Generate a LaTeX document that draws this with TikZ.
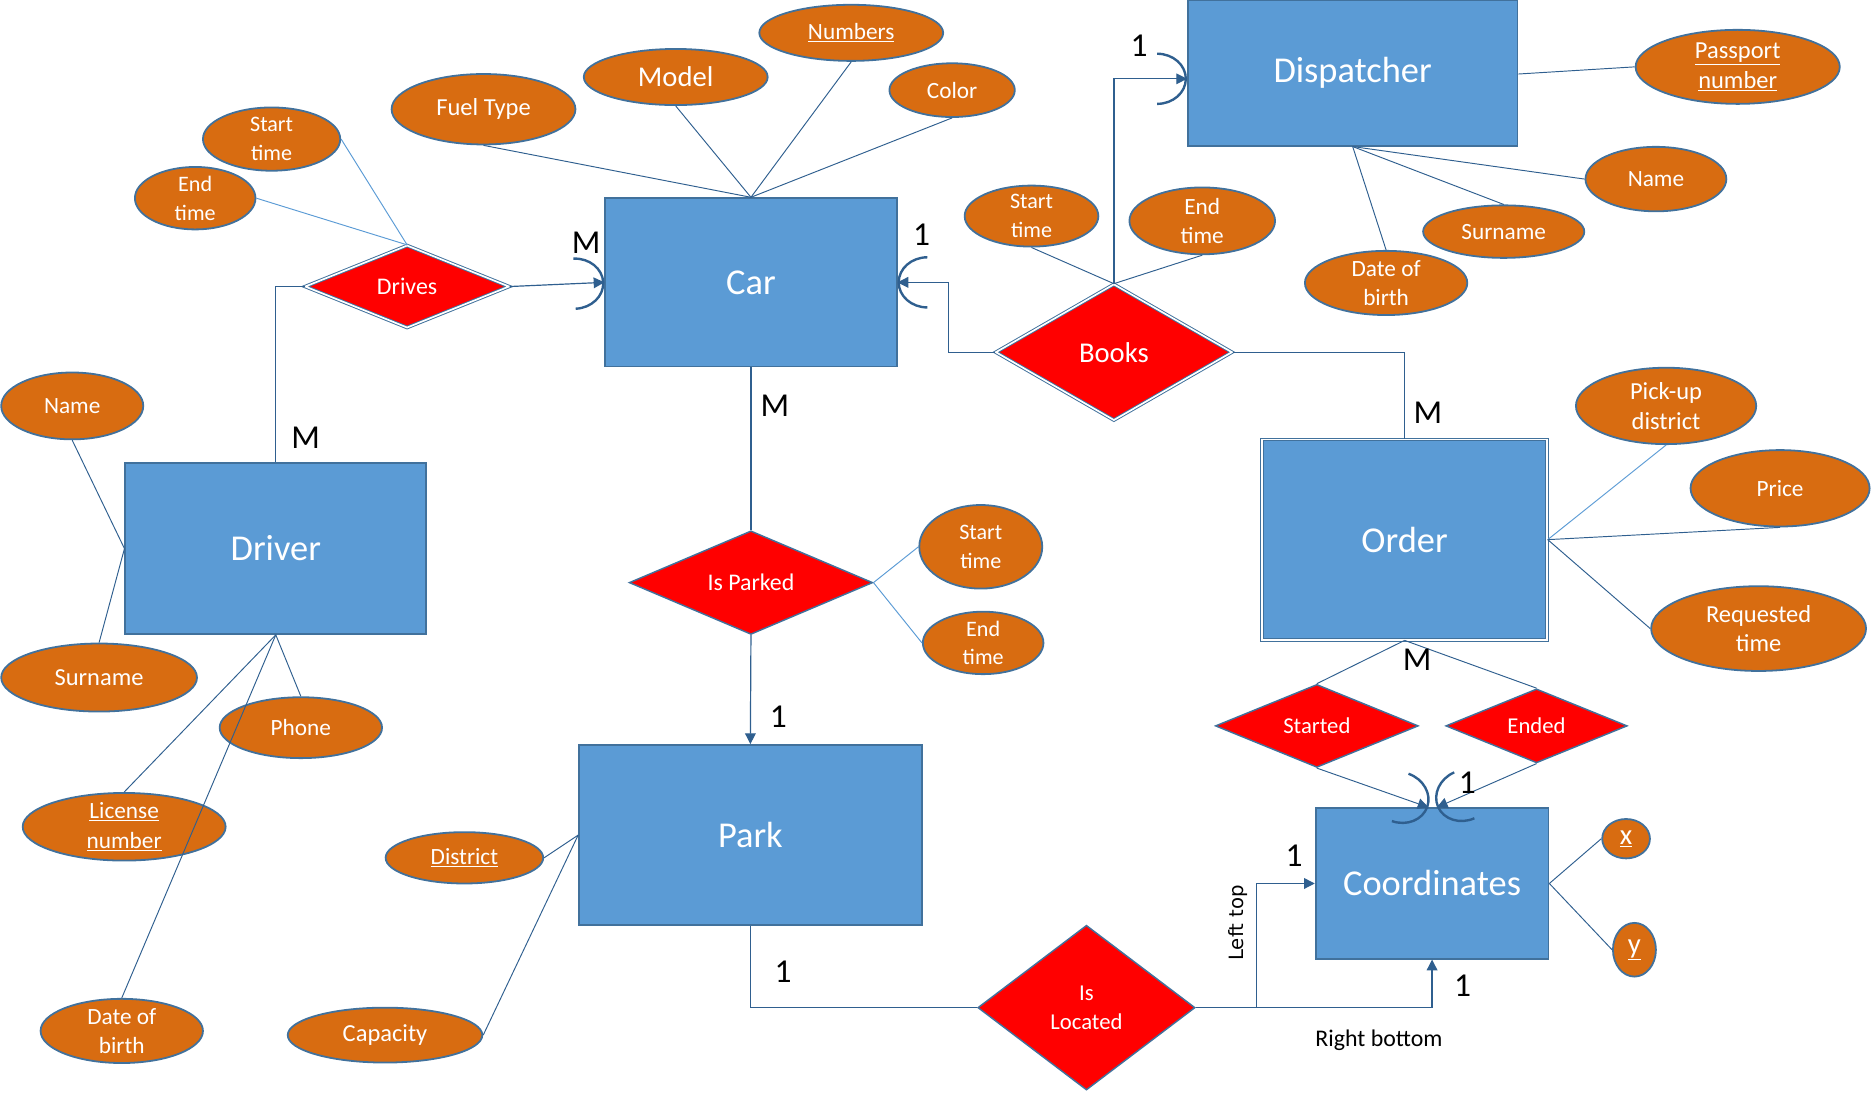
\documentclass[tikz,border=0pt]{standalone}
\usepackage{fontspec}
\setmainfont{Carlito}
\newfontfamily\djv{DejaVu Sans}
\usetikzlibrary{shapes.geometric,arrows.meta,decorations.markings,calc}
\definecolor{entfill}{HTML}{5B9BD5}
\definecolor{bord}{HTML}{41719C}
\definecolor{attfill}{HTML}{D86C11}
\definecolor{lnk}{HTML}{2F5F8F}
\definecolor{lite}{HTML}{5B9BD5}
\begin{document}
\begin{tikzpicture}[x=1pt,y=-1pt,
  ent/.style={rectangle, draw=bord, line width=1.5pt, fill=entfill, text=white, inner sep=0pt, font=\fontsize{30.5}{36}\selectfont},
  attr/.style={ellipse, draw=bord, line width=1.5pt, fill=attfill, text=white, inner sep=0pt, align=center, font=\fontsize{19.5}{24.5}\selectfont},
  rel/.style={diamond, draw=bord, line width=1.2pt, fill=red, text=white, inner sep=0pt, align=center, font=\fontsize{20}{24}\selectfont},
  dbl/.style={line width=0.8pt, double=white, double distance=1.4pt},
  conn/.style={draw=lnk, line width=1pt},
  att/.style={draw=lnk, line width=0.8pt},
  latt/.style={draw=lite, line width=0.8pt},
  arr/.style={-{Triangle[length=9pt,width=9pt]}},
  halfarc/.style={postaction={decorate, decoration={markings, mark=at position 1 with {\draw[arrows=-, draw=lnk, line width=2pt] (-25pt,-21pt) arc[start angle=-90, end angle=90, x radius=24pt, y radius=21pt];}}}},
  card/.style={inner sep=0pt, text=black, font=\fontsize{28}{30}\selectfont},
  lbl/.style={inner sep=0pt, text=black, font=\fontsize{20}{24}\selectfont}
]
\useasboundingbox (0,0) rectangle (1568,916);

% entities
\node[ent, minimum width=244pt, minimum height=141pt] (car) at (629,236.5) {Car};
\node[ent, minimum width=276pt, minimum height=122pt] (dispatcher) at (1133,61) {Dispatcher};
\node[ent, minimum width=252pt, minimum height=143pt] (driver) at (231,459.5) {Driver};
\node[ent, dbl, draw=bord, minimum width=239pt, minimum height=168pt] (order) at (1176.5,452) {Order};
\node[ent, minimum width=287pt, minimum height=151pt] (park) at (628.5,699.5) {Park};
\node[ent, minimum width=195pt, minimum height=126pt] (coord) at (1199.5,740) {Coordinates};

% relationships
\node[rel, dbl, draw=bord, minimum width=171pt, minimum height=69pt] (drives) at (341,240) {Drives};
\node[rel, dbl, draw=bord, minimum width=198pt, minimum height=114pt, font=\fontsize{24}{28}\selectfont] (books) at (933,295) {Books};
\node[rel, minimum width=204pt, minimum height=82pt] (ispark) at (629,488) {Is Parked};
\node[rel, minimum width=170pt, minimum height=56pt, font=\fontsize{19}{24}\selectfont] (started) at (1103,608) {Started};
\node[rel, minimum width=152pt, minimum height=56pt, font=\fontsize{19}{24}\selectfont] (ended) at (1287,608) {Ended};
\node[rel, minimum width=182pt, minimum height=138pt, font=\fontsize{19}{24}\selectfont] (isloc) at (910,844) {Is\\Located};

% attributes
\node[attr, minimum width=154pt, minimum height=59pt, font=\fontsize{20.5}{24}\selectfont] (fuel) at (405,91.5) {Fuel Type};
\node[attr, minimum width=154pt, minimum height=47pt, font=\fontsize{24}{28}\selectfont] (model) at (566,64.5) {Model};
\node[attr, minimum width=154pt, minimum height=47pt] (numbers) at (713,27.5) {\underline{Numbers}};
\node[attr, minimum width=105pt, minimum height=45pt] (color) at (797.5,75.5) {Color};
\node[attr, minimum width=115pt, minimum height=53pt, font=\fontsize{18.5}{24}\selectfont] (st1) at (227.5,116.5) {Start\\time};
\node[attr, minimum width=101pt, minimum height=48pt, font=\fontsize{18.5}{24}\selectfont] (et1) at (163.5,166) {End\\time};
\node[attr, minimum width=119pt, minimum height=56pt] (name1) at (60.5,340) {Name};
\node[attr, minimum width=164pt, minimum height=57pt, font=\fontsize{20.5}{24}\selectfont] (sur1) at (83,567.5) {Surname};
\node[attr, minimum width=136pt, minimum height=51pt] (phone) at (252,609.5) {Phone};
\node[attr, minimum width=170pt, minimum height=51pt] (lic) at (104,692.5) {\underline{License}\\\underline{number}};
\node[attr, minimum width=136pt, minimum height=51pt] (dob1) at (102,863.5) {Date of\\birth};
\node[attr, minimum width=163pt, minimum height=46pt, font=\fontsize{20.5}{24}\selectfont] (cap) at (322.5,867) {Capacity};
\node[attr, minimum width=132pt, minimum height=43pt] (dist) at (389,718.5) {\underline{District}};
\node[attr, minimum width=112pt, minimum height=50pt, font=\fontsize{18.5}{24}\selectfont] (st2) at (864,181) {Start\\time};
\node[attr, minimum width=122pt, minimum height=56pt] (et2) at (1007,185) {End\\time};
\node[attr, minimum width=171pt, minimum height=62pt, font=\fontsize{20.5}{25}\selectfont] (pass) at (1455.5,56) {\underline{Passport}\\\underline{number}};
\node[attr, minimum width=118pt, minimum height=54pt] (name2) at (1387,150) {Name};
\node[attr, minimum width=135pt, minimum height=44pt] (sur2) at (1259.5,194) {Surname};
\node[attr, minimum width=136pt, minimum height=50pt] (dob2) at (1161,237) {Date of\\birth};
\node[attr, minimum width=151pt, minimum height=64pt, font=\fontsize{20.5}{25}\selectfont] (pick) at (1395.5,340) {Pick-up\\district};
\node[attr, minimum width=150pt, minimum height=64pt] (price) at (1491,409) {Price};
\node[attr, minimum width=180pt, minimum height=71pt, font=\fontsize{20.5}{25}\selectfont] (req) at (1473,526.5) {Requested\\time};
\node[attr, minimum width=103pt, minimum height=70pt, font=\fontsize{18.5}{24}\selectfont] (st3) at (821.5,458) {Start\\time};
\node[attr, minimum width=101pt, minimum height=47pt, font=\fontsize{18.5}{24}\selectfont] (et3) at (823.5,538.5) {End\\time};
\node[attr, minimum width=40pt, minimum height=33pt, font=\fontsize{24}{28}\selectfont] (xx) at (1362,702.5) {\underline{x}};
\node[attr, minimum width=36pt, minimum height=45pt, font=\fontsize{24}{28}\selectfont] (yy) at (1369,795.5) {\underline{y}};

% attribute lines
\foreach \a in {fuel,model,numbers,color} \draw[att] (car.north) -- (\a.south);
\draw[latt] (drives.north) -- (st1.east);
\draw[latt] (drives.north) -- (et1.east);
\draw[att] (books.north) -- (st2.south);
\draw[att] (books.north) -- (et2.south);
\draw[att] ([yshift=-1pt]dispatcher.east) -- (pass.west);
\draw[att] (dispatcher.south) -- (name2.west);
\draw[att] (dispatcher.south) -- (sur2.north);
\draw[att] (dispatcher.south) -- (dob2.north);
\draw[latt] (order.east) -- (pick.south);
\draw[att] (order.east) -- (price.south);
\draw[att] (order.east) -- (req.west);
\draw[latt] (ispark.east) -- (st3.west);
\draw[latt] (ispark.east) -- (et3.west);
\draw[att] (driver.west) -- (name1.south);
\draw[att] (driver.west) -- (sur1.north);
\draw[att] (driver.south) -- (phone.north);
\draw[att] (driver.south) -- (lic.north);
\draw[att] (driver.south) -- (dob1.north);
\draw[att] (park.west) -- (dist.east);
\draw[att] (park.west) -- (cap.east);
\draw[att] (coord.east) -- (xx.west);
\draw[att] (coord.east) -- (yy.west);

% relationship connectors
\draw[conn, arr, halfarc] (drives.east) -- (car.west);
\draw[conn] (drives.west) -| (driver.north);
\draw[conn, arr, halfarc] (books.west) -- ++(-39,0) |- (car.east);
\draw[conn, arr, halfarc] (books.north) |- ([yshift=-5pt]dispatcher.west);
\draw[conn] (books.east) -| (order.north);
\draw[conn] (car.south) -- (ispark.north);
\draw[conn, arr] (ispark.south) -- (park.north);
\draw[conn] (park.south) |- (isloc.west);
\draw[conn, arr] (isloc.east) -- ++(51,0) |- (coord.west);
\draw[conn, arr] (isloc.east) -| (coord.south);
\draw[att] (order.south) -- (started.north);
\draw[att] (order.south) -- (ended.north);
\draw[att, arr, halfarc] (started.south) -- ([xshift=-3pt]coord.north);
\draw[att, arr, halfarc] (ended.south) -- ([xshift=4pt]coord.north);

% cardinalities
\node[card] (c1) at (491,203) {M};
\node[card] (c2) at (772,197) {1};
\node[card] (c3) at (954,38) {1};
\node[card] (c4) at (256,367) {M};
\node[card] (c5) at (649,340) {M};
\node[card] (c6) at (652,600) {1};
\node[card] (c7) at (1196,346) {M};
\node[card] (c8) at (1187,553) {M};
\node[card] (c9) at (1229,656) {1};
\node[card] (c10) at (656,814) {1};
\node[card] (c11) at (1084,717) {1};
\node[card] (c12) at (1225,826) {1};
\node[inner sep=0pt, rotate=90, font=\djv\fontsize{16.5}{20}\selectfont] (lt) at (1037,773) {Left top};
\node[lbl] (rb) at (1155,871) {Right bottom};
\end{tikzpicture}
\end{document}
